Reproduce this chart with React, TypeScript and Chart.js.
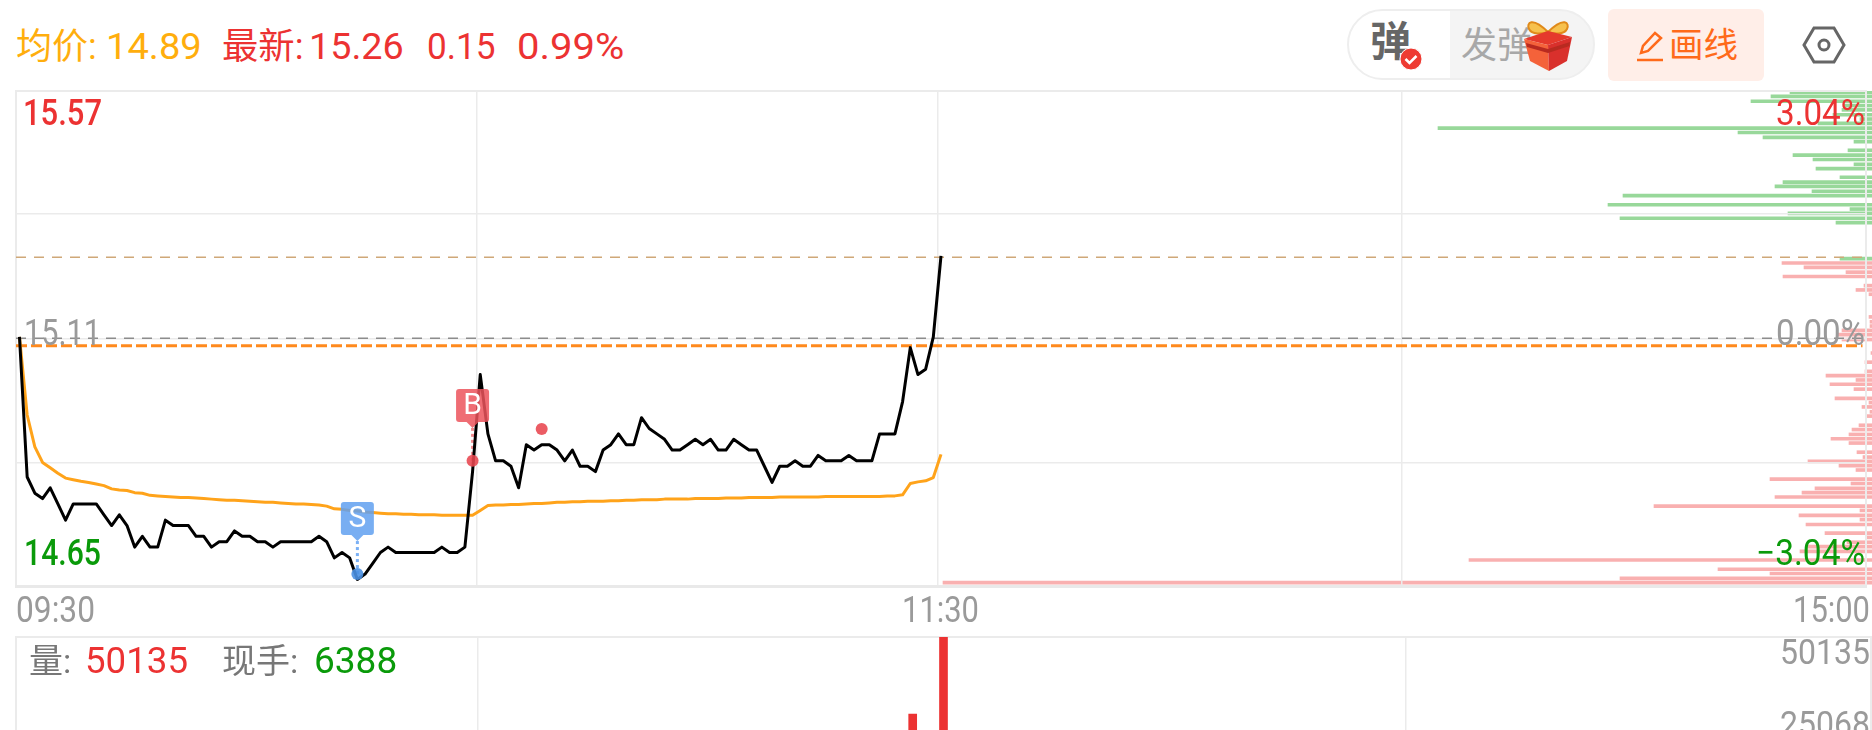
import React, { useEffect, useRef } from "react";
import { Chart, registerables } from "chart.js";

Chart.register(...registerables);

// 09:30 onward, one reading per minute
const prices = [
  15.11, 14.85, 14.82, 14.81, 14.83, 14.8, 14.77, 14.8, 14.8, 14.8,
  14.8, 14.78, 14.76, 14.78, 14.76, 14.72, 14.74, 14.72, 14.72, 14.77,
  14.76, 14.76, 14.76, 14.74, 14.74, 14.72, 14.73, 14.73, 14.75, 14.74,
  14.74, 14.73, 14.73, 14.72, 14.73, 14.73, 14.73, 14.73, 14.73, 14.74,
  14.73, 14.7, 14.71, 14.7, 14.66, 14.67, 14.69, 14.71, 14.72, 14.71,
  14.71, 14.71, 14.71, 14.71, 14.71, 14.72, 14.71, 14.71, 14.72, 14.86,
  15.04, 14.93, 14.88, 14.88, 14.87, 14.83, 14.91, 14.9, 14.91, 14.91,
  14.9, 14.88, 14.9, 14.87, 14.87, 14.86, 14.9, 14.91, 14.93, 14.91,
  14.91, 14.96, 14.94, 14.93, 14.92, 14.9, 14.9, 14.91, 14.92, 14.91,
  14.92, 14.9, 14.9, 14.92, 14.91, 14.9, 14.9, 14.87, 14.84, 14.87,
  14.87, 14.88, 14.87, 14.87, 14.89, 14.88, 14.88, 14.88, 14.89, 14.88,
  14.88, 14.88, 14.93, 14.93, 14.93, 14.99, 15.09, 15.04, 15.05, 15.11,
  15.26,
];
const averages = [
  15.11, 14.965, 14.906, 14.877, 14.867, 14.857, 14.848, 14.845, 14.842, 14.84,
  14.837, 14.834, 14.828, 14.826, 14.825, 14.821, 14.82, 14.816, 14.815, 14.814,
  14.813, 14.812, 14.812, 14.811, 14.81, 14.809, 14.808, 14.807, 14.807, 14.806,
  14.805, 14.804, 14.803, 14.803, 14.802, 14.801, 14.8, 14.8, 14.799, 14.798,
  14.796, 14.791, 14.79, 14.788, 14.787, 14.785, 14.784, 14.783, 14.782, 14.782,
  14.781, 14.781, 14.78, 14.78, 14.78, 14.779, 14.779, 14.779, 14.779, 14.779,
  14.788, 14.797, 14.798, 14.798, 14.799, 14.799, 14.8, 14.801, 14.801, 14.802,
  14.803, 14.803, 14.804, 14.804, 14.805, 14.805, 14.805, 14.806, 14.806, 14.807,
  14.807, 14.808, 14.808, 14.808, 14.809, 14.809, 14.809, 14.809, 14.81, 14.81,
  14.81, 14.81, 14.811, 14.811, 14.811, 14.812, 14.812, 14.812, 14.812, 14.813,
  14.813, 14.813, 14.813, 14.813, 14.813, 14.814, 14.814, 14.814, 14.814, 14.814,
  14.814, 14.814, 14.814, 14.815, 14.815, 14.817, 14.838, 14.841, 14.843, 14.849,
  14.892,
];

// Price profile down the right side (sell side / buy side)
const sellLevels = [
  15.564, 15.556, 15.547, 15.539, 15.531, 15.522, 15.514, 15.506, 15.497, 15.489,
  15.48, 15.472, 15.456, 15.447, 15.439, 15.43, 15.422, 15.406, 15.397, 15.389,
  15.38, 15.372, 15.355, 15.347, 15.339, 15.33, 15.322, 15.255,
];
const sellSizes = [
  82, 101, 121, 29, 30, 39, 12, 54, 434, 134,
  109, 18, 24, 79, 59, 18, 56, 32, 89, 97,
  60, 249, 264, 22, 84, 252, 36, 32,
];
const buyLevels = [
  15.247, 15.239, 15.23, 15.222, 15.205, 15.197, 15.189, 15.147, 15.138, 15.13,
  15.122, 15.114, 15.105, 15.08, 15.063, 15.046, 15.038, 15.03, 15.022, 15.013,
  14.996, 14.988, 14.98, 14.971, 14.963, 14.946, 14.938, 14.929, 14.921, 14.913,
  14.896, 14.887, 14.879, 14.871, 14.863, 14.846, 14.838, 14.829, 14.821, 14.813,
  14.796, 14.788, 14.779, 14.771, 14.762, 14.746, 14.738, 14.729, 14.721, 14.712,
  14.696, 14.679, 14.671, 14.662, 14.654,
];
const buySizes = [
  90, 68, 26, 89, 8, 16, 3, 3, 2, 2,
  30, 35, 30, 1, 7, 7, 46, 16, 42, 18,
  37, 3, 10, 2, 5, 13, 20, 23, 41, 23,
  15, 9, 64, 33, 16, 102, 21, 57, 70, 97,
  218, 12, 73, 12, 66, 47, 5, 25, 65, 72,
  403, 154, 102, 252, 929,
];

const volumeMinutes = [116, 120];
const volumeValues = [28200, 50135];

const lastClosePrice = 15.1075;
const latestPrice = 15.2575;
const costPrice = 15.0933;

const sellMark = { minute: 44, price: 14.67, flagBase: 14.7315, label: "S" };
const buyMark = { minute: 59, price: 14.88, flagBase: 14.941, label: "B" };
const extraDot = { minute: 68, price: 14.939 };

const priceGrid = [15.338, 15.106, 14.876];
const timeGrid = [59.5, 119.6, 180];

const RED = "#ec3232";
const GREEN = "#0a9a0a";
const GREY = "#9a9a9a";
const ORANGE = "#ffae0d";
const GRID = "#ebebeb";
const FONT = "Roboto, 'Noto Sans CJK SC', sans-serif";

const chartLabels = [
  { text: "15.57", x: 23, y: 115.5, w: 79, color: RED, weight: "500" },
  { text: "15.11", x: 24, y: 335.5, w: 77, color: GREY, weight: "400" },
  { text: "14.65", x: 24, y: 555.5, w: 77, color: GREEN, weight: "500" },
  { text: "3.04%", x: 1776, y: 115.5, w: 89, color: RED, weight: "400" },
  { text: "0.00%", x: 1776, y: 335.5, w: 89, color: GREY, weight: "400" },
  { text: "−3.04%", x: 1756, y: 555.5, w: 109, color: GREEN, weight: "400" },
  { text: "09:30", x: 16, y: 613, w: 79, color: GREY, weight: "400" },
  { text: "11:30", x: 902, y: 613, w: 77, color: GREY, weight: "400" },
  { text: "15:00", x: 1793, y: 613, w: 77, color: GREY, weight: "400" },
];

const volumeLabels = [
  { text: "量:", x: 29, y: 664, w: 46, color: "#777777", size: 34 },
  { text: "50135", x: 85, y: 664, w: 103, color: RED, size: 37 },
  { text: "现手:", x: 222, y: 664, w: 78, color: "#777777", size: 34 },
  { text: "6388", x: 314, y: 664, w: 89, color: GREEN, size: 37 },
  { text: "50135", x: 1780, y: 655, w: 90, color: GREY, size: 35 },
  { text: "25068", x: 1780, y: 727, w: 90, color: GREY, size: 35 },
];

const headerItems = [
  { text: "均价:", x: 16, color: ORANGE, size: 36, stretch: 1 },
  { text: "14.89", x: 106, color: ORANGE, size: 37, stretch: 1.03 },
  { text: "最新:", x: 222, color: RED, size: 36, stretch: 1.01 },
  { text: "15.26", x: 309, color: RED, size: 37, stretch: 1.02 },
  { text: "0.15", x: 427, color: RED, size: 37, stretch: 0.95 },
  { text: "0.99%", x: 517, color: RED, size: 37, stretch: 1.08 },
];

const X_AT_ZERO = 19.5;
const X_STEP = 7.7;
const AREA_LEFT = 16;
const AREA_RIGHT = 1871;

const xRange = {
  min: (AREA_LEFT - X_AT_ZERO) / X_STEP,
  max: (AREA_RIGHT - X_AT_ZERO) / X_STEP,
};

const frame = (extraBottom: boolean) => ({
  id: "frame",
  beforeDatasetsDraw(chart: any) {
    const { ctx, chartArea: a } = chart;
    ctx.save();
    ctx.strokeStyle = GRID;
    ctx.lineWidth = 2;
    ctx.strokeRect(a.left, a.top, a.right - a.left, a.bottom - a.top);
    if (extraBottom) {
      ctx.fillStyle = "#e9e9e9";
      ctx.fillRect(a.left - 1, a.bottom - 2, a.right - a.left + 2, 3);
    }
    ctx.restore();
  },
});

const drawFlag = (chart: any, mark: any, color: string) => {
  const { ctx, scales } = chart;
  const x = scales.x.getPixelForValue(mark.minute);
  const bottom = scales.y.getPixelForValue(mark.flagBase) - 6;
  ctx.save();
  ctx.fillStyle = color;
  ctx.beginPath();
  ctx.roundRect(x - 16.5, bottom - 33, 33, 33, 3);
  ctx.fill();
  ctx.beginPath();
  ctx.moveTo(x - 6, bottom);
  ctx.lineTo(x + 6, bottom);
  ctx.lineTo(x, bottom + 6);
  ctx.fill();
  ctx.fillStyle = "#ffffff";
  ctx.font = `30px ${FONT}`;
  ctx.textAlign = "center";
  ctx.textBaseline = "middle";
  ctx.fillText(mark.label, x, bottom - 15.5);
  ctx.restore();
};

const flags = {
  id: "flags",
  afterDatasetsDraw(chart: any) {
    drawFlag(chart, sellMark, "rgba(96,160,240,0.85)");
    drawFlag(chart, buyMark, "rgba(236,84,92,0.85)");
  },
};

const textLayer = (items: any[], size: number) => ({
  id: "textLayer",
  afterDraw(chart: any) {
    const { ctx } = chart;
    ctx.save();
    ctx.textAlign = "left";
    ctx.textBaseline = "middle";
    items.forEach((t) => {
      ctx.font = `${t.weight ?? "400"} ${t.size ?? size}px ${FONT}`;
      ctx.fillStyle = t.color;
      ctx.fillText(t.text, t.x, t.y, t.w);
    });
    ctx.restore();
  },
});

const quiet = { legend: { display: false }, tooltip: { enabled: false } };

const xAxis = {
  type: "linear",
  ...xRange,
  afterBuildTicks: (s: any) => {
    s.ticks = timeGrid.map((value) => ({ value }));
  },
  ticks: { display: false },
  border: { display: false },
  grid: { color: GRID, lineWidth: 1.5, drawTicks: false, offset: false },
};

const series = (values: number[]) => values.map((y, x) => ({ x, y }));
const flat = (y: number) => [
  { x: xRange.min, y },
  { x: 240, y },
];

const canvasStyle: React.CSSProperties = { position: "absolute", left: 0, top: 0 };

const GiftIcon = () => (
  <svg width="56" height="58" viewBox="0 0 56 58" style={{ position: "absolute", left: 1520, top: 17 }}>
    <path d="M28 15 C12 -1 6 6 9 12 C12 18 22 17 28 15 C44 -1 50 6 47 12 C44 18 34 17 28 15Z" fill="#f6c14e" stroke="#e08a1a" strokeWidth="2" />
    <path d="M4 22 L28 14 L52 20 L28 28Z" fill="#e5392c" />
    <path d="M4 22 L28 28 L29 54 L10 44Z" fill="#f4623a" />
    <path d="M28 28 L52 20 L47 44 L29 54Z" fill="#d9302c" />
    <path d="M6 26 L28 32 L50 25 L49.500 29 L28 36 L7 30Z" fill="#b82a20" />
  </svg>
);

const Toolbar = () => (
  <>
    <div style={{ position: "absolute", left: 1347, top: 9, width: 248, height: 71, boxSizing: "border-box", border: "2px solid #eeeeee", borderRadius: 36, background: "linear-gradient(90deg,#ffffff 0 101px,#f4f4f4 101px)" }} />
    <span style={{ position: "absolute", left: 1370, top: 16, fontSize: 41, lineHeight: "52px", fontWeight: 700, color: "#666666", fontFamily: FONT }}>弹</span>
    <svg width="24" height="24" viewBox="0 0 24 24" style={{ position: "absolute", left: 1399, top: 47 }}>
      <circle cx="12" cy="12" r="11" fill="#ee3a32" stroke="#ffffff" strokeWidth="1" />
      <path d="M6.500 12 L10.500 16 L17.500 9" fill="none" stroke="#ffffff" strokeWidth="2.500" />
    </svg>
    <span style={{ position: "absolute", left: 1461, top: 21, fontSize: 36, lineHeight: "50px", color: "#a8a8a8", fontFamily: FONT }}>发弹</span>
    <GiftIcon />
    <div style={{ position: "absolute", left: 1608, top: 9, width: 156, height: 72, borderRadius: 6, background: "#ffeee8" }} />
    <svg width="30" height="34" viewBox="0 0 30 34" style={{ position: "absolute", left: 1635, top: 29 }}>
      <path d="M6 24 L8 17 L20 4 L26 9 L13 22Z" fill="none" stroke="#ff6a1a" strokeWidth="2.500" />
      <path d="M2 31 H28" stroke="#ff6a1a" strokeWidth="2.500" />
    </svg>
    <span style={{ position: "absolute", left: 1669, top: 20, fontSize: 34.500, lineHeight: "50px", color: "#ff6a1a", fontFamily: FONT }}>画线</span>
    <svg width="44" height="40" viewBox="0 0 44 40" style={{ position: "absolute", left: 1802, top: 25 }}>
      <path d="M12 3 H32 L42 20 L32 37 H12 L2 20Z" fill="none" stroke="#666666" strokeWidth="3" />
      <circle cx="22" cy="20" r="5" fill="none" stroke="#666666" strokeWidth="3" />
    </svg>
  </>
);

export default function App() {
  const profileRef = useRef<HTMLCanvasElement>(null);
  const priceRef = useRef<HTMLCanvasElement>(null);
  const volumeRef = useRef<HTMLCanvasElement>(null);

  useEffect(() => {
    const profile = new Chart(profileRef.current!, {
      type: "bar",
      data: {
        datasets: [
          {
            data: sellLevels.map((y, i) => ({ x: sellSizes[i], y })) as any,
            backgroundColor: "#98d89a",
            barThickness: 3,
            grouped: false,
          },
          {
            data: buyLevels.map((y, i) => ({ x: buySizes[i], y })) as any,
            backgroundColor: "#f9b0b0",
            barThickness: 3,
            grouped: false,
          },
        ],
      },
      options: {
        indexAxis: "y",
        responsive: false,
        animation: false,
        layout: { padding: { left: 16, right: 0, top: 91, bottom: 143 } },
        plugins: quiet,
        scales: {
          x: { type: "linear", display: false, reverse: true, min: 0, max: 1856 },
          y: { type: "linear", display: false, min: 14.646, max: 15.566, offset: false },
        },
      } as any,
    });

    const price = new Chart(priceRef.current!, {
      type: "line",
      data: {
        datasets: [
          { data: [{ x: sellMark.minute, y: sellMark.price }], showLine: false, pointRadius: 6, pointBackgroundColor: "rgba(74,144,226,0.9)", pointBorderWidth: 0, order: 0 },
          { data: [{ x: buyMark.minute, y: buyMark.price }, { x: extraDot.minute, y: extraDot.price }], showLine: false, pointRadius: 6, pointBackgroundColor: "rgba(232,70,78,0.88)", pointBorderWidth: 0, order: 0 },
          { data: series(prices), borderColor: "#000000", borderWidth: 3, borderJoinStyle: "round", pointRadius: 0, tension: 0, order: 1 },
          { data: series(averages), borderColor: "#ffa31a", borderWidth: 3, borderJoinStyle: "round", pointRadius: 0, tension: 0, order: 2 },
          { data: [{ x: sellMark.minute, y: sellMark.price }, { x: sellMark.minute, y: sellMark.flagBase }], borderColor: "#7ab0f5", borderWidth: 3, borderDash: [3, 3], pointRadius: 0, order: 3 },
          { data: [{ x: buyMark.minute, y: buyMark.price }, { x: buyMark.minute, y: buyMark.flagBase }], borderColor: "#f08a8d", borderWidth: 3, borderDash: [3, 3], pointRadius: 0, order: 3 },
          { data: flat(costPrice), borderColor: "#ff8a1e", borderWidth: 3, borderDash: [11, 4], pointRadius: 0, order: 3 },
          { data: flat(lastClosePrice), borderColor: "#8c8c8c", borderWidth: 1.5, borderDash: [10, 8], pointRadius: 0, order: 4 },
          { data: flat(latestPrice), borderColor: "#cfa878", borderWidth: 1.5, borderDash: [10, 8], pointRadius: 0, order: 4 },
        ],
      },
      options: {
        responsive: false,
        animation: false,
        layout: { padding: { left: AREA_LEFT, right: 1872 - AREA_RIGHT, top: 91, bottom: 143 } },
        plugins: quiet,
        scales: {
          x: xAxis,
          y: {
            type: "linear",
            min: 14.646,
            max: 15.566,
            afterBuildTicks: (s: any) => {
              s.ticks = priceGrid.map((value) => ({ value }));
            },
            ticks: { display: false },
            border: { display: false },
            grid: { color: GRID, lineWidth: 1.5, drawTicks: false },
          },
        },
      } as any,
      plugins: [frame(true), flags, textLayer(chartLabels, 36)],
    });

    const volume = new Chart(volumeRef.current!, {
      type: "bar",
      data: {
        datasets: [
          {
            data: volumeMinutes.map((x, i) => ({ x, y: volumeValues[i] })) as any,
            backgroundColor: RED,
            barThickness: 8,
          },
        ],
      },
      options: {
        responsive: false,
        animation: false,
        layout: { padding: { left: AREA_LEFT, right: 1872 - AREA_RIGHT, top: 637, bottom: 37 } },
        plugins: quiet,
        scales: {
          x: { ...xAxis, offset: false },
          y: {
            type: "linear",
            min: 0,
            max: 50135,
            ticks: { display: false },
            border: { display: false },
            grid: { display: false, drawTicks: false },
          },
        },
      } as any,
      plugins: [frame(false), textLayer(volumeLabels, 34)],
    });

    return () => {
      profile.destroy();
      price.destroy();
      volume.destroy();
    };
  }, []);

  return (
    <div style={{ position: "fixed", left: 0, top: 0, width: 1872, height: 730, overflow: "hidden", background: "#ffffff" }}>
      {headerItems.map((h) => (
        <span key={h.text} style={{ position: "absolute", left: h.x, top: 25, fontSize: h.size, lineHeight: "44px", color: h.color, fontFamily: FONT, whiteSpace: "nowrap", transform: `scaleX(${h.stretch})`, transformOrigin: "left center" }}>
          {h.text}
        </span>
      ))}
      <Toolbar />
      <canvas ref={volumeRef} width={1872} height={850} style={canvasStyle} />
      <canvas ref={profileRef} width={1872} height={730} style={canvasStyle} />
      <canvas ref={priceRef} width={1872} height={730} style={canvasStyle} />
    </div>
  );
}
